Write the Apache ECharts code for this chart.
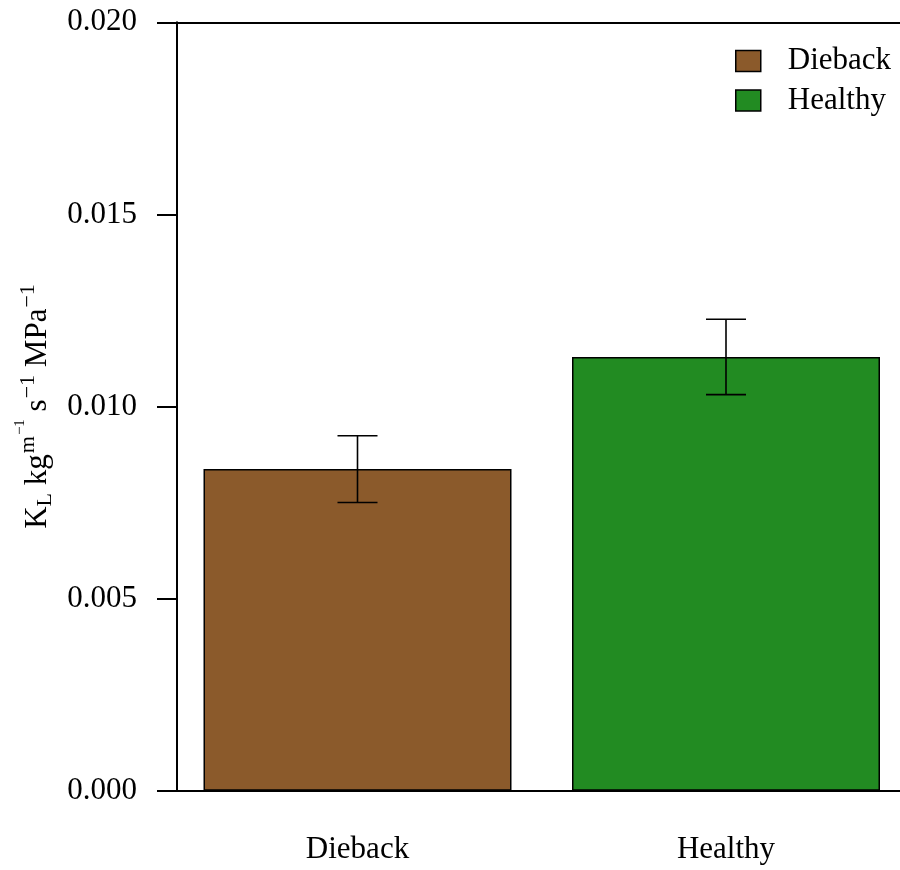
<!DOCTYPE html>
<html>
<head>
<meta charset="utf-8">
<title>Leaf-specific hydraulic conductance</title>
<script src="https://cdn.jsdelivr.net/npm/echarts@6/dist/echarts.min.js"></script>
<style>
  html, body { margin: 0; padding: 0; background: #fff; }
  #chart { width: 900px; height: 870px; }
</style>
</head>
<body>
<div id="chart"></div>
<script>
// Tree condition groups
const categories = ['Dieback', 'Healthy'];
// Mean leaf-specific conductance (kg m^-1 s^-1 MPa^-1)
const meanValues = [0.00837, 0.01129];
// Standard errors of the means
const seValues = [0.00087, 0.00098];
// Value axis ticks
const yTicks = [0, 0.005, 0.010, 0.015, 0.020];

const barColors = ['#8B5A2B', '#228B22'];
const FONT = '"Liberation Serif", "Times New Roman", serif';
const FS = 31;

const chart = echarts.init(document.getElementById('chart'), null, { renderer: 'canvas' });

// one bar series per group so each gets its own legend entry
const barSeries = categories.map((name, i) => ({
  name: name,
  type: 'bar',
  xAxisIndex: 0,
  yAxisIndex: 0,
  barWidth: 308,
  barGap: '-100%',
  data: categories.map((c, j) => (j === i ? meanValues[j] : null)),
  itemStyle: { color: barColors[i], borderColor: '#000', borderWidth: 1.5 },
  emphasis: { disabled: true },
  animation: false,
  z: 2
}));

const errorData = categories.map((c, i) => [i, meanValues[i] - seValues[i], meanValues[i] + seValues[i]]);

// mean ± SE whiskers with flat caps
const errorSeries = {
  type: 'custom',
  xAxisIndex: 0,
  yAxisIndex: 0,
  data: errorData,
  z: 5,
  animation: false,
  renderItem(params, api) {
    const idx = api.value(0);
    const lo = api.coord([idx, api.value(1)]);
    const hi = api.coord([idx, api.value(2)]);
    const half = 20;
    const st = { stroke: '#000', lineWidth: 1.6 };
    return {
      type: 'group',
      children: [
        { type: 'line', shape: { x1: lo[0], y1: lo[1], x2: hi[0], y2: hi[1] }, style: st },
        { type: 'line', shape: { x1: lo[0] - half, y1: lo[1], x2: lo[0] + half, y2: lo[1] }, style: st },
        { type: 'line', shape: { x1: hi[0] - half, y1: hi[1], x2: hi[0] + half, y2: hi[1] }, style: st }
      ]
    };
  }
};

const option = {
  backgroundColor: '#fff',
  animation: false,
  textStyle: { fontFamily: FONT },
  grid: {
    left: 173.25, right: -10.25, top: 22.3, bottom: 79.3,
    containLabel: false,
    outerBoundsMode: 'none'
  },
  legend: {
    data: categories,
    orient: 'vertical',
    left: 730,
    top: 40.5,
    itemWidth: 25,
    itemHeight: 21,
    itemGap: 8.5,
    icon: 'rect',
    selectedMode: false,
    itemStyle: { borderColor: '#000', borderWidth: 1.5 },
    textStyle: { fontFamily: FONT, fontSize: FS, color: '#000', lineHeight: 30, padding: [0, 0, 0, 22] }
  },
  xAxis: [
    {
      type: 'category',
      position: 'bottom',
      data: categories,
      axisLine: { show: true, lineStyle: { color: '#000', width: 2 } },
      axisTick: { show: false },
      axisLabel: { fontFamily: FONT, fontSize: FS, color: '#000', margin: 44 },
      splitLine: { show: false }
    },
    {
      type: 'category',
      position: 'top',
      data: categories,
      axisLine: { show: true, lineStyle: { color: '#000', width: 2 } },
      axisTick: { show: false },
      axisLabel: { show: false },
      splitLine: { show: false }
    }
  ],
  yAxis: {
    type: 'value',
    min: yTicks[0],
    max: yTicks[yTicks.length - 1],
    interval: yTicks[1] - yTicks[0],
    offset: -3.75,
    axisLine: { show: true, lineStyle: { color: '#000', width: 2 } },
    axisTick: { show: true, inside: false, length: 20, lineStyle: { color: '#000', width: 2 } },
    axisLabel: {
      fontFamily: FONT, fontSize: FS, color: '#000', margin: 40,
      padding: [5, 0, 0, 0],
      formatter: v => v.toFixed(3)
    },
    splitLine: { show: false },
    name: '{m|K}{sub|L}{m| kg}{sup|m}{sup2|\u22121}{m| s}{sup|\u22121}{m| MPa}{sup|\u22121}',
    nameLocation: 'middle',
    nameGap: 125,
    nameTextStyle: {
      fontFamily: FONT,
      color: '#000',
      rich: {
        m: { fontFamily: FONT, fontSize: FS, lineHeight: FS, color: '#000', verticalAlign: 'top', padding: [10, 0, 0, 0] },
        sub: { fontFamily: FONT, fontSize: 22, lineHeight: 22, color: '#000', verticalAlign: 'top', padding: [22, 0, 0, 0] },
        sup: { fontFamily: FONT, fontSize: 22, lineHeight: 22, color: '#000', verticalAlign: 'top', padding: [5, 0, 0, 1] },
        sup2: { fontFamily: FONT, fontSize: 15, lineHeight: 15, color: '#000', verticalAlign: 'top', padding: [0.4, 0, 0, 1] }
      }
    }
  },
  series: [...barSeries, errorSeries]
};

chart.setOption(option);
</script>
</body>
</html>
